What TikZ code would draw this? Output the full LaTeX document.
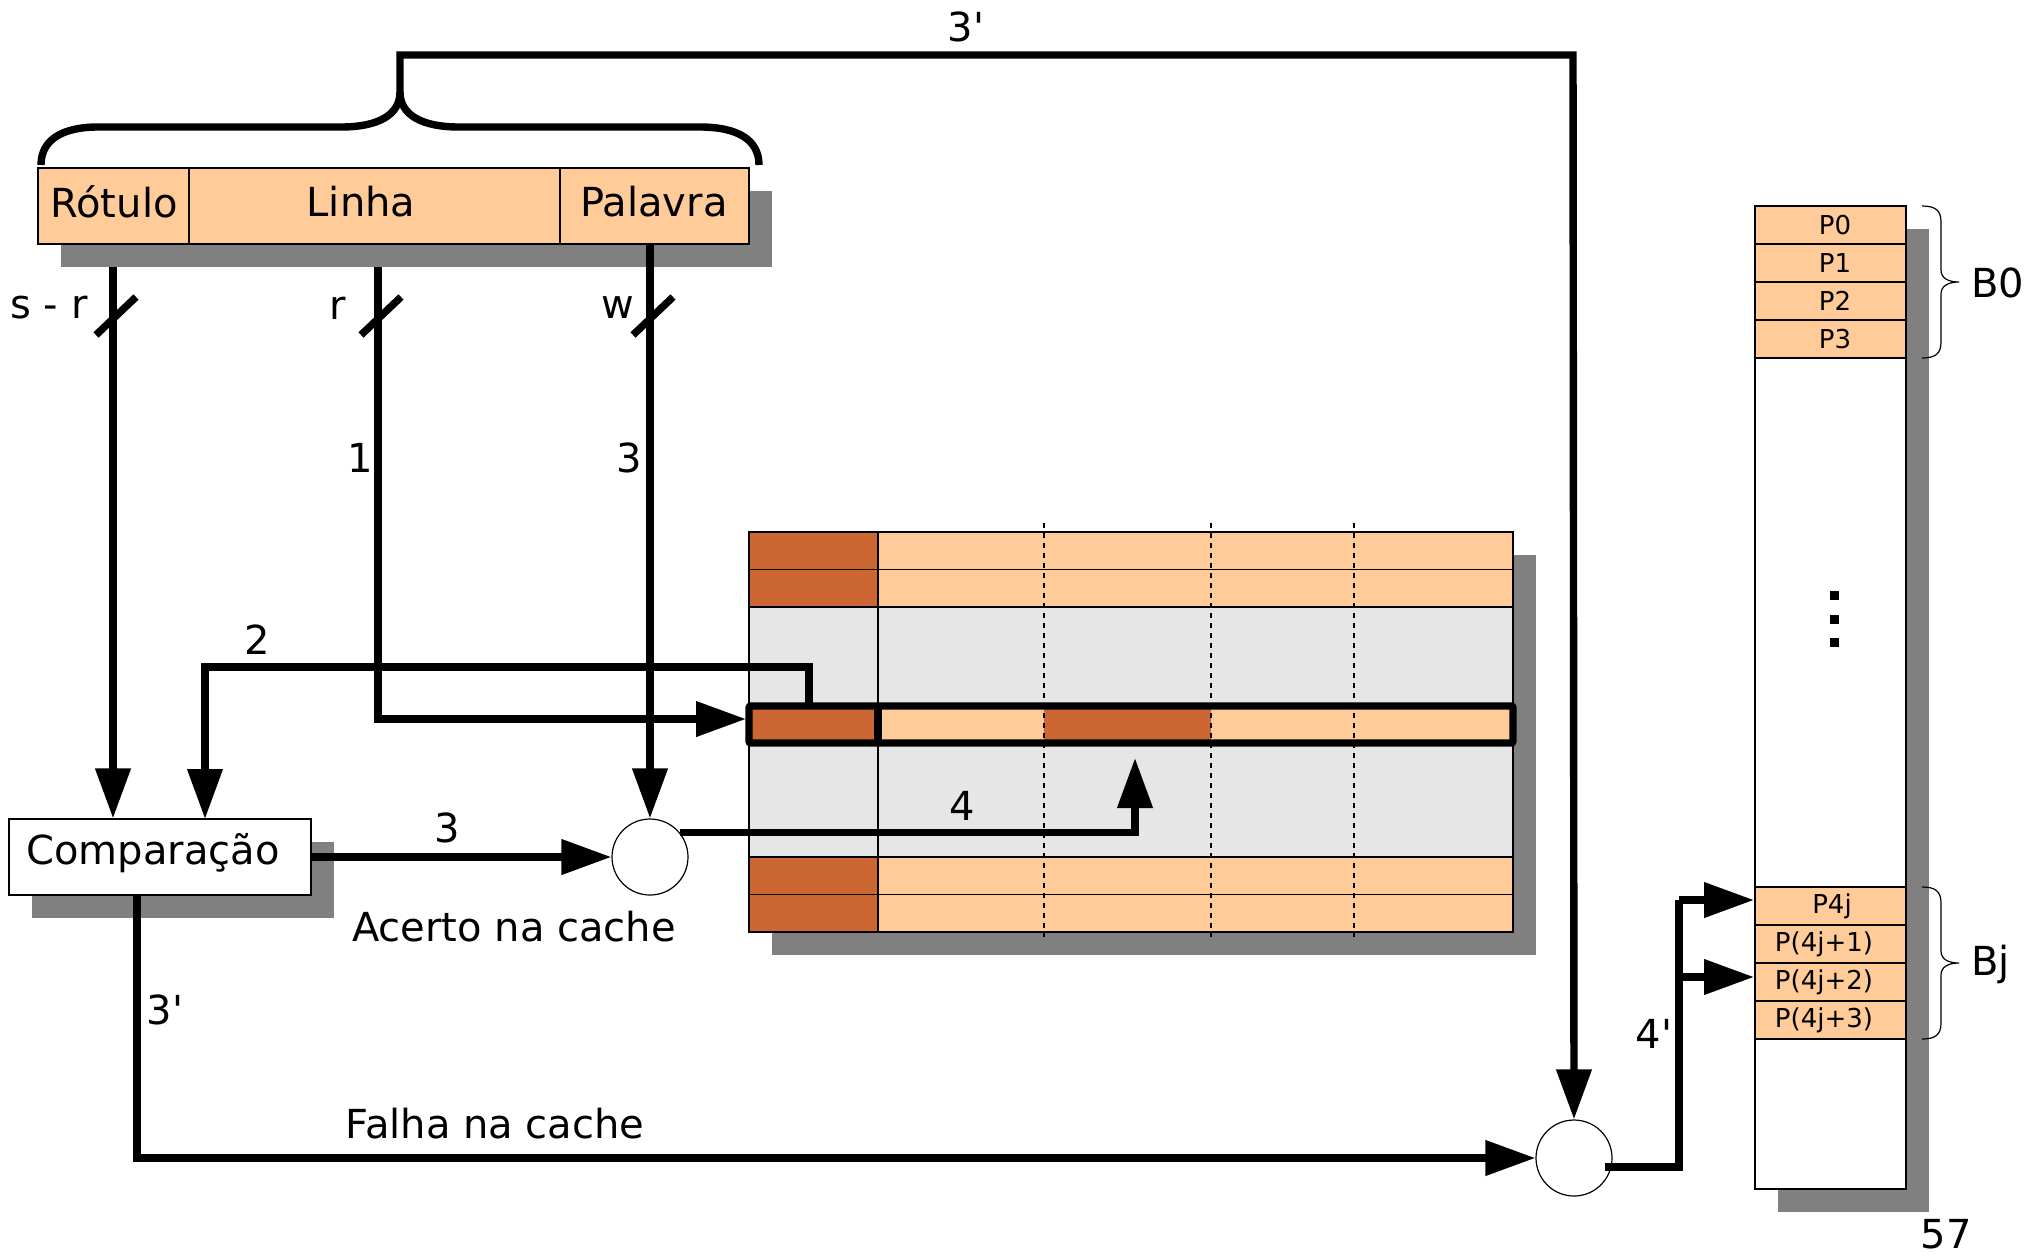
\documentclass[tikz,border=0pt]{standalone}
\usepackage{fontspec}
\setmainfont{DejaVu Sans}
\usetikzlibrary{arrows.meta}
\definecolor{peach}{HTML}{FFCC99}
\definecolor{rust}{HTML}{CC6633}
\definecolor{shadowgray}{HTML}{808080}
\definecolor{cachegray}{HTML}{E6E6E6}
\newcommand{\pr}{\textquotesingle}
\begin{document}
\begin{tikzpicture}[x=0.5pt,y=-0.5pt,
  thinline/.style={line width=0.6pt},
  wire/.style={line width=3.7pt},
  conn/.style={line width=3.7pt,-{Triangle[length=25pt,width=17pt]}},
  lbl/.style={font=\fontsize{20}{24}\selectfont,inner sep=0pt},
  memtext/.style={font=\fontsize{13}{16}\selectfont,inner sep=0pt},
  junction/.style={circle,draw,thinline,fill=white,minimum size=38pt,inner sep=0pt}]
\useasboundingbox (0,0) rectangle (2039,1255);

% ---- address fields ----
\fill[shadowgray] (61,191) rectangle (772,267);
\draw[thinline,fill=peach] (38,168) rectangle (749,244);
\draw[thinline] (189,168) -- (189,244) (560,168) -- (560,244);
\node[lbl] (rot) at (114,202) {Rótulo};
\node[lbl] (lin) at (361,202) {Linha};
\node[lbl] (pal) at (654,202) {Palavra};

% brace over the whole address
\draw[wire] (41,165) .. controls (41,140) and (62,127) .. (98,127) -- (341,127)
  .. controls (378,127) and (400,115) .. (400,92)
  .. controls (400,115) and (422,127) .. (459,127) -- (700,127)
  .. controls (738,127) and (759,140) .. (759,165);
\coordinate (bracetip) at (400,92);

% field widths
\node[lbl] (lsr) at (49,308) {s - r};
\node[lbl] (lr) at (338,308) {r};
\node[lbl] (lw) at (618,308) {w};
\foreach \x in {113,378,650}
  \draw[wire] (\x-17,335) -- (\x+23,297);
\coordinate (tagout) at (113,267);
\coordinate (lineout) at (378,267);
\coordinate (wordout) at (650,244);

% ---- cache ----
\fill[shadowgray] (772,555) rectangle (1536,955);
\fill[cachegray] (749,532) rectangle (1513,932);
\foreach \y in {532,569.5,857,894.5}{
  \fill[rust] (749,\y) rectangle (878,\y+37.5);
  \fill[peach] (878,\y) rectangle (1513,\y+37.5);
  \draw[thinline] (749,\y) rectangle (1513,\y+37.5);
}
\draw[thinline] (749,532) rectangle (1513,932);
\draw[thinline] (878,532) -- (878,932);
% selected line
\fill[rust] (749,706) rectangle (878,743);
\fill[peach] (878,706) rectangle (1044,743);
\fill[rust] (1044,706) rectangle (1211,743);
\fill[peach] (1211,706) rectangle (1513,743);
\foreach \x in {1044,1211,1354}
  \draw[thinline,dash pattern=on 2.5pt off 2.5pt] (\x,523) -- (\x,937);
\draw[line width=3.7pt,rounded corners=1pt] (749,706) rectangle (1513,743);
\draw[line width=3.7pt] (878,706) -- (878,743);
\coordinate (tagcell) at (809,706);
\coordinate (rowin) at (746,719);
\coordinate (wordcell) at (1135,758);

% ---- comparison and selectors ----
\fill[shadowgray] (32,842) rectangle (334,918);
\node[draw,thinline,fill=white,minimum width=151pt,minimum height=38pt,inner sep=0pt] (cmp) at (160,857) {};
\node[lbl] (cmptext) at (153,853) {Comparação};
\node[junction] (hit) at (650,857) {};
\node[junction] (miss) at (1574,1158) {};

% ---- main memory ----
\fill[shadowgray] (1778,229) rectangle (1929,1212);
\draw[thinline,fill=white] (1755,206) rectangle (1906,1189);
\foreach \y/\x/\t in {206/1835/P0,244/1835/P1,282/1835/P2,320/1835/P3,887/1832/P4j,925/1824/P(4j+1),963/1824/P(4j+2),1001/1824/P(4j+3)}{
  \draw[thinline,fill=peach] (1755,\y) rectangle (1906,\y+38);
  \node[memtext] at (\x,\y+19) {\t};
}
\coordinate (pa) at (1754,900);
\coordinate (pb) at (1754,977);
\foreach \y in {595.5,619,642}
  \fill (1830,\y-4.5) rectangle (1839,\y+4.5);
% block braces
\foreach \t/\n in {206/B0,887/Bj}{
  \draw[thinline] (1922,\t) .. controls (1935,\t) and (1941,\t+4) .. (1941,\t+16) -- (1941,\t+64)
    .. controls (1941,\t+72) and (1948,\t+76) .. (1959,\t+76)
    .. controls (1948,\t+76) and (1941,\t+80) .. (1941,\t+88) -- (1941,\t+136)
    .. controls (1941,\t+148) and (1935,\t+152) .. (1922,\t+152);
  \node[lbl,anchor=west] at (1971,\t+77) {\n};
}
\node[lbl] (num) at (1946,1234) {57};

% ---- connectors ----
\draw[conn] (tagout) -- (tagout |- cmp.north);
\draw[conn] (lineout) -- (378,719) -- (rowin);
\draw[conn] (wordout) -- (hit.north);
\draw[conn] (tagcell) -- (809,667) -- (205,667) -- (205,819);
\draw[conn] (cmp.east) -- (hit.west);
\draw[conn] (hit.39) -| (wordcell);
\draw[conn] (137,895) -- (137,1158) -- (miss.west);
\draw[conn] (bracetip) -- (400,55) -- (1573,55) -- (miss.north);
\draw[wire] (1605,1167) -- (1679,1167) -- (1679,900);
\draw[conn] (1679,900) -- (pa);
\draw[conn] (1677,977) -- (pb);

% connector labels
\node[lbl] at (360,458) {1};
\node[lbl] at (629,458) {3};
\node[lbl] at (257,640) {2};
\node[lbl] at (447,828) {3};
\node[lbl] at (962,806) {4};
\node[lbl] at (165,1010) {3\pr};
\node[lbl] at (966,27) {3\pr};
\node[lbl] at (1654,1034) {4\pr};
\node[lbl] at (514,927) {Acerto na cache};
\node[lbl] at (495,1124) {Falha na cache};
\end{tikzpicture}
\end{document}
